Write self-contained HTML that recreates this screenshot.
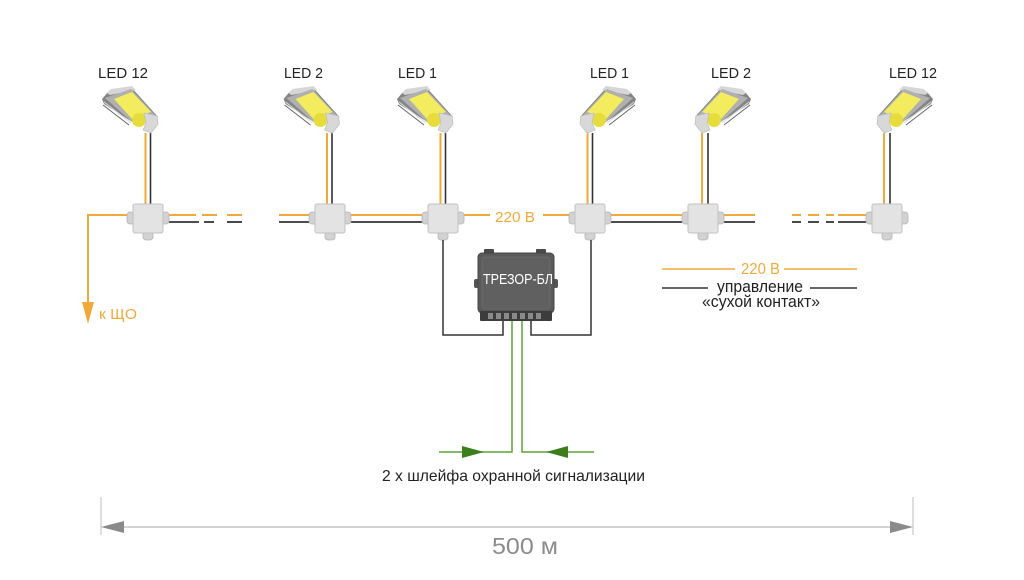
<!DOCTYPE html>
<html><head><meta charset="utf-8"><style>
html,body{margin:0;padding:0;background:#fff;}
svg{display:block;}
text{font-family:"Liberation Sans","Noto Sans CJK SC",sans-serif;}
</style></head><body>
<svg width="1024" height="580" viewBox="0 0 1024 580" xmlns="http://www.w3.org/2000/svg">
<defs>
<g id="lamp">
  <polygon points="-46,-34 -40,-41 -17,-46 10,-16 -14,-10 -44,-29" fill="#858585"/>
  <polygon points="-41,-40 -37,-44 -16,-47 -12,-43 -38,-38" fill="#d6d6d6"/>
  <polygon points="-43,-35 -17,-44 7,-18 -16,-11" fill="#b0b0b0"/>
  <polygon points="-34,-34 -16,-41 3,-21 -16,-14" fill="#f3ec5e"/>
  <line x1="-44" y1="-31" x2="-17" y2="-10" stroke="#d8d8d8" stroke-width="1"/>
  <line x1="-45" y1="-28" x2="-19" y2="-8" stroke="#666" stroke-width="1"/>
  <circle cx="-9" cy="-13" r="7" fill="#e6dd3c"/>
  <polygon points="-4,-20 9,-17 10,-9 3,0 -5,-3 -2,-10" fill="#d8d8d8" stroke="#c0c0c0" stroke-width="0.8"/>
</g>
<g id="jbox">
  <rect x="-21" y="212" width="8" height="12" rx="3" fill="#d2d2d2" stroke="#b3b3b3" stroke-width="0.8"/>
  <rect x="13" y="212" width="8" height="12" rx="3" fill="#d2d2d2" stroke="#b3b3b3" stroke-width="0.8"/>
  <rect x="-5" y="231" width="10" height="9" rx="3" fill="#d2d2d2" stroke="#b3b3b3" stroke-width="0.8"/>
  <rect x="-15" y="204" width="30" height="29" rx="2" fill="#e3e3e3" stroke="#c2c2c2" stroke-width="1"/>
</g>
</defs>

<!-- LED labels -->
<g font-size="15" fill="#222">
  <text x="98" y="78" textLength="50" lengthAdjust="spacingAndGlyphs">LED 12</text>
  <text x="284" y="78" textLength="39" lengthAdjust="spacingAndGlyphs">LED 2</text>
  <text x="398" y="78" textLength="39" lengthAdjust="spacingAndGlyphs">LED 1</text>
  <text x="590" y="78" textLength="39" lengthAdjust="spacingAndGlyphs">LED 1</text>
  <text x="711" y="78" textLength="40" lengthAdjust="spacingAndGlyphs">LED 2</text>
  <text x="889" y="78" textLength="48" lengthAdjust="spacingAndGlyphs">LED 12</text>
</g>

<!-- vertical lamp wires -->
<g stroke-width="2">
  <g stroke="#f2a93b">
    <line x1="145.5" y1="133" x2="145.5" y2="204"/>
    <line x1="327" y1="133" x2="327" y2="204"/>
    <line x1="440.5" y1="133" x2="440.5" y2="204"/>
    <line x1="587.5" y1="133" x2="587.5" y2="204"/>
    <line x1="702" y1="133" x2="702" y2="204"/>
    <line x1="884" y1="133" x2="884" y2="204"/>
  </g>
  <g stroke="#333" stroke-width="1.6">
    <line x1="150.5" y1="133" x2="150.5" y2="204"/>
    <line x1="332" y1="133" x2="332" y2="204"/>
    <line x1="445.5" y1="133" x2="445.5" y2="204"/>
    <line x1="592.5" y1="133" x2="592.5" y2="204"/>
    <line x1="708" y1="133" x2="708" y2="204"/>
    <line x1="890" y1="133" x2="890" y2="204"/>
  </g>
</g>

<!-- lamps -->
<use href="#lamp" transform="translate(148,133)"/>
<use href="#lamp" transform="translate(329.5,133)"/>
<use href="#lamp" transform="translate(443,133)"/>
<use href="#lamp" transform="translate(590,133) scale(-1,1)"/>
<use href="#lamp" transform="translate(705,133) scale(-1,1)"/>
<use href="#lamp" transform="translate(887,133) scale(-1,1)"/>

<!-- horizontal wires -->
<g fill="none" stroke-width="2">
  <g stroke="#f2a93b">
    <polyline points="127,215 88,215 88,305"/>
    <line x1="169" y1="215" x2="196" y2="215"/>
    <line x1="202" y1="215" x2="217" y2="215"/>
    <line x1="227" y1="215" x2="242" y2="215"/>
    <line x1="279" y1="215" x2="309" y2="215"/>
    <line x1="351" y1="215" x2="422" y2="215"/>
    <line x1="464" y1="215" x2="490" y2="215"/>
    <line x1="543" y1="215" x2="569" y2="215"/>
    <line x1="611" y1="215" x2="682" y2="215"/>
    <line x1="724" y1="215" x2="755" y2="215"/>
    <line x1="792" y1="215" x2="801" y2="215"/>
    <line x1="808" y1="215" x2="819" y2="215"/>
    <line x1="826" y1="215" x2="834" y2="215"/>
    <line x1="838" y1="215" x2="866" y2="215"/>
  </g>
  <g stroke="#333" stroke-width="1.8">
    <line x1="169" y1="222" x2="199" y2="222"/>
    <line x1="204" y1="222" x2="214" y2="222"/>
    <line x1="227" y1="222" x2="242" y2="222"/>
    <line x1="279" y1="222" x2="309" y2="222"/>
    <line x1="351" y1="222" x2="422" y2="222"/>
    <line x1="611" y1="222" x2="682" y2="222"/>
    <line x1="724" y1="222" x2="755" y2="222"/>
    <line x1="792" y1="222" x2="801" y2="222"/>
    <line x1="808" y1="222" x2="819" y2="222"/>
    <line x1="826" y1="222" x2="834" y2="222"/>
    <line x1="838" y1="222" x2="866" y2="222"/>
  </g>
</g>
<polygon points="82,302 94,302 88,324" fill="#f2a93b"/>
<text x="99" y="319" font-size="15" fill="#f2a93b" textLength="38" lengthAdjust="spacingAndGlyphs">к ЩО</text>

<!-- junction boxes -->
<use href="#jbox" x="148"/>
<use href="#jbox" x="330"/>
<use href="#jbox" x="443"/>
<use href="#jbox" x="590"/>
<use href="#jbox" x="703"/>
<use href="#jbox" x="887"/>

<text x="495" y="222" font-size="15" fill="#f2a93b" textLength="40" lengthAdjust="spacingAndGlyphs">220 В</text>

<!-- black wires to TREZOR -->
<g fill="none" stroke="#333" stroke-width="1.5">
  <polyline points="443,240 443,335 503,335 503,320"/>
  <polyline points="531,320 531,335 591,335 591,240"/>
</g>

<!-- green wires -->
<g fill="none" stroke="#5ea33a" stroke-width="1.5">
  <polyline points="512,318 512,452 439,452"/>
  <polyline points="522,318 522,452 594,452"/>
</g>
<polygon points="462,446 484,452 462,458" fill="#3c7d1c"/>
<polygon points="568,446 546,452 568,458" fill="#3c7d1c"/>

<!-- TREZOR box -->
<g>
  <rect x="484" y="249" width="10" height="6" rx="1" fill="#4a4a4a"/>
  <rect x="536" y="249" width="10" height="6" rx="1" fill="#4a4a4a"/>
  <rect x="474" y="279" width="6" height="9" rx="2" fill="#555"/>
  <rect x="552" y="279" width="6" height="9" rx="2" fill="#555"/>
  <rect x="478" y="253" width="76" height="60" rx="4" fill="#5a5a5a" stroke="#474747" stroke-width="1"/>
  <rect x="482" y="257" width="68" height="52" rx="3" fill="#606060" stroke="#6e6e6e" stroke-width="0.8"/>
  <rect x="480" y="311" width="72" height="10" rx="1" fill="#3c3c3c"/>
  <g fill="#8a8a8a">
    <rect x="488" y="313" width="5" height="6"/>
    <rect x="496" y="313" width="5" height="6"/>
    <rect x="504" y="313" width="5" height="6"/>
    <rect x="512" y="313" width="5" height="6"/>
    <rect x="520" y="313" width="5" height="6"/>
    <rect x="528" y="313" width="5" height="6"/>
    <rect x="536" y="313" width="5" height="6"/>
  </g>
  <text x="483" y="284" font-size="15" fill="#fff" textLength="70" lengthAdjust="spacingAndGlyphs">ТРЕЗОР-БЛ</text>
</g>

<!-- legend -->
<g stroke-width="1.6">
  <line x1="662" y1="269" x2="735" y2="269" stroke="#f2a93b"/>
  <line x1="784" y1="269" x2="857" y2="269" stroke="#f2a93b"/>
  <line x1="662" y1="288" x2="708" y2="288" stroke="#333"/>
  <line x1="810" y1="288" x2="857" y2="288" stroke="#333"/>
</g>
<text x="741" y="274" font-size="15.5" fill="#f2a93b" textLength="39" lengthAdjust="spacingAndGlyphs">220 В</text>
<text x="717" y="292" font-size="16.5" fill="#222" textLength="86" lengthAdjust="spacingAndGlyphs">управление</text>
<text x="702" y="307" font-size="16.5" fill="#222" textLength="118" lengthAdjust="spacingAndGlyphs">«сухой контакт»</text>

<text x="382" y="481" font-size="16" fill="#222" textLength="263" lengthAdjust="spacingAndGlyphs">2 х шлейфа охранной сигнализации</text>

<!-- dimension -->
<line x1="101" y1="497" x2="101" y2="535" stroke="#bdbdbd" stroke-width="1"/>
<line x1="913" y1="497" x2="913" y2="535" stroke="#bdbdbd" stroke-width="1"/>
<line x1="110" y1="527" x2="904" y2="527" stroke="#d3d3d3" stroke-width="2"/>
<polygon points="101,527 124,521 124,533" fill="#8a8a8a"/>
<polygon points="913,527 890,521 890,533" fill="#8a8a8a"/>
<text x="492" y="554" font-size="23" fill="#8c8c8c" textLength="66" lengthAdjust="spacingAndGlyphs">500 м</text>
</svg>
</body></html>
